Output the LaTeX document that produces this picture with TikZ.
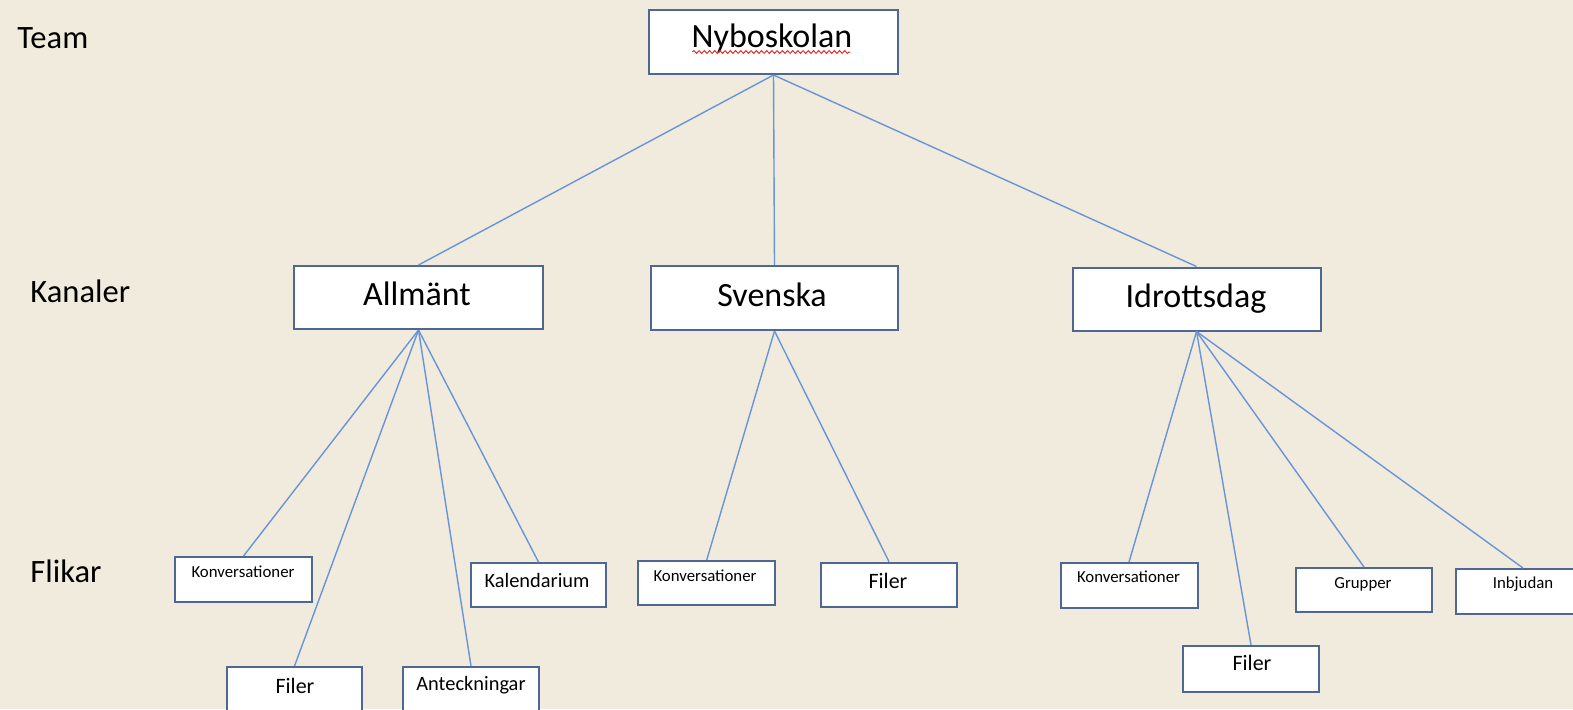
\documentclass[tikz,border=0pt]{standalone}
\usepackage{fontspec}
\setmainfont{Carlito}
\usetikzlibrary{decorations.pathmorphing}
\definecolor{bgc}{HTML}{F0EBDC}
\definecolor{boxline}{HTML}{4E6893}
\definecolor{conline}{HTML}{6A94D8}
\definecolor{squig}{HTML}{E03030}
\tikzset{
  box/.style={draw=boxline, line width=1pt, fill=white, rectangle, inner sep=0pt},
  conn/.style={draw=conline, line width=0.7pt},
  big/.style={font=\fontsize{17}{20}\selectfont, anchor=base, inner sep=0pt},
  side/.style={font=\fontsize{16.3}{19}\selectfont, anchor=base west, inner sep=0pt},
  tiny/.style={font=\fontsize{8.4}{10}\selectfont, anchor=base, inner sep=0pt},
  mid/.style={font=\fontsize{10.2}{12}\selectfont, anchor=base, inner sep=0pt},
  fil/.style={font=\fontsize{11}{13}\selectfont, anchor=base, inner sep=0pt},
}
\begin{document}
\begin{tikzpicture}[x=0.5pt,y=-0.5pt]
\useasboundingbox (0,0) rectangle (1573,709);
\clip (0,0) rectangle (1573,709);
\fill[bgc] (0,0) rectangle (1573,709);

% side labels
\node[side] (lteam) at (17,48) {Team};
\node[side] (lkan) at (30,302) {Kanaler};
\node[side] (lfli) at (30,582) {Flikar};

% boxes
\node[box, minimum width=124.5pt, minimum height=32pt] (ny) at (773.5,42) {};
\node[box, minimum width=124.5pt, minimum height=31.5pt] (al) at (418.5,297.5) {};
\node[box, minimum width=123.5pt, minimum height=32pt] (sv) at (774.5,298) {};
\node[box, minimum width=124pt, minimum height=31.5pt] (id) at (1196.5,299) {};

\node[box, minimum width=68.5pt, minimum height=22.5pt] (ak) at (243.5,579.5) {};
\node[box, minimum width=67.5pt, minimum height=22pt] (ka) at (538.5,585) {};
\node[box, minimum width=67.5pt, minimum height=22.5pt] (af) at (294.5,689.5) {};
\node[box, minimum width=68pt, minimum height=22.5pt] (an) at (471,689.5) {};

\node[box, minimum width=68.5pt, minimum height=22pt] (sk) at (706.7,583) {};
\node[box, minimum width=68pt, minimum height=22pt] (sf) at (889,584.7) {};

\node[box, minimum width=68.5pt, minimum height=22.5pt] (ik) at (1129,585.5) {};
\node[box, minimum width=68pt, minimum height=23pt] (if) at (1251,669) {};
\node[box, minimum width=68pt, minimum height=22pt] (ig) at (1364,590) {};
\node[box, minimum width=67pt, minimum height=22.5pt] (ib) at (1523,591.5) {};

% connectors
\draw[conn] (ny.south) -- (al.north);
\draw[conn] (ny.south) -- (sv.north);
\draw[conn] (ny.south) -- (id.north);
\draw[conn] (al.south) -- (ak.north);
\draw[conn] (al.south) -- (af.north);
\draw[conn] (al.south) -- (an.north);
\draw[conn] (al.south) -- (ka.north);
\draw[conn] (sv.south) -- (sk.north);
\draw[conn] (sv.south) -- (sf.north);
\draw[conn] (id.south) -- (ik.north);
\draw[conn] (id.south) -- (if.north);
\draw[conn] (id.south) -- (ig.north);
\draw[conn] (id.south) -- (ib.north);

% texts
\node[big] (tny) at (772,47) {Nyboskolan};
\draw[squig, line width=0.5pt, decorate, decoration={snake, amplitude=0.7pt, segment length=2.6pt}] (tny.base west) ++(1,5) -- ++(158,0);
\node[big] (tal) at (417,305) {Allmänt};
\node[big] (tsv) at (772,306) {Svenska};
\node[big] (tid) at (1196,307.5) {Idrottsdag};

\node[tiny] (tak) at (243,577) {Konversationer};
\node[mid] (tka) at (537,587) {Kalendarium};
\node[fil] (taf) at (295,693) {Filer};
\node[mid] (tan) at (471,690) {Anteckningar};
\node[tiny] (tsk) at (705,581) {Konversationer};
\node[fil] (tsf) at (888,588) {Filer};
\node[tiny] (tik) at (1128.5,582) {Konversationer};
\node[fil] (tif) at (1252,670) {Filer};
\node[tiny] (tig) at (1363,588) {Grupper};
\node[tiny] (tib) at (1523,588.5) {Inbjudan};
\end{tikzpicture}
\end{document}
